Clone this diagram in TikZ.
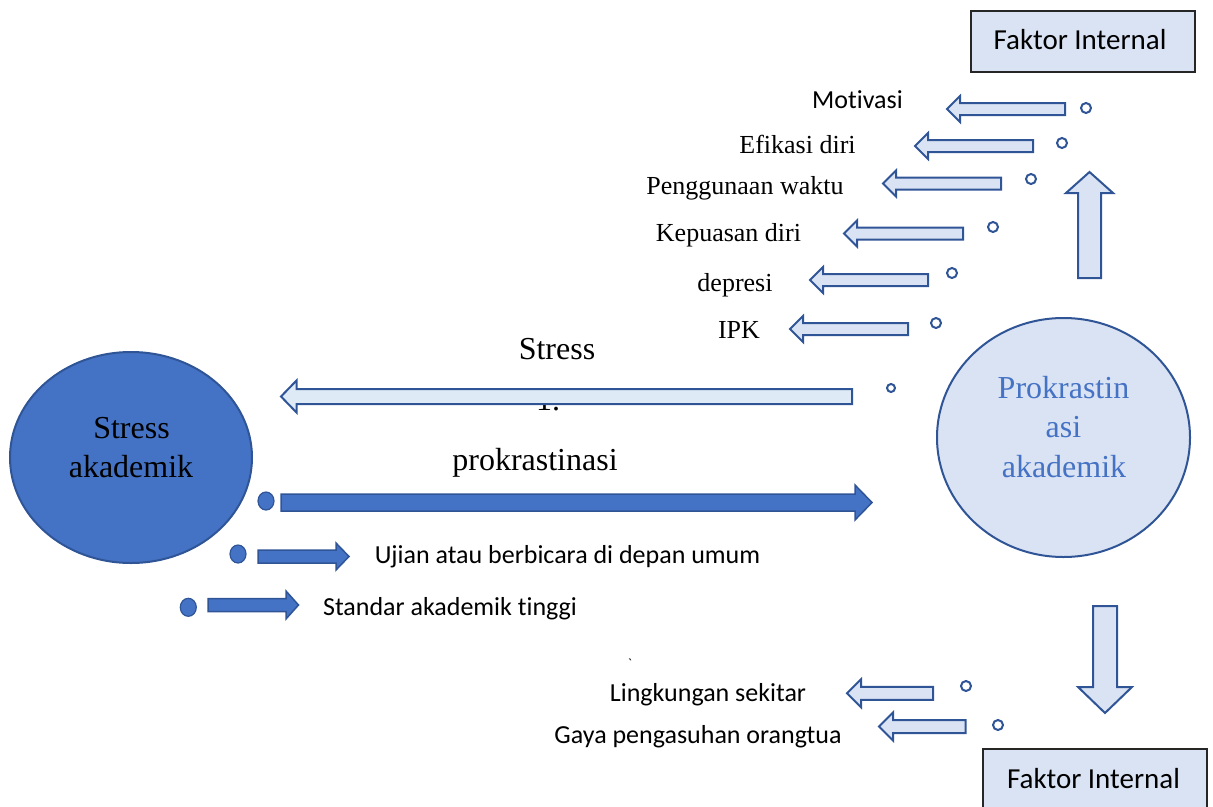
\documentclass[tikz,border=0pt]{standalone}
\usepackage{fontspec}
\setmainfont{Liberation Serif}
\newfontfamily\calibri{Carlito}[Ligatures=NoCommon]
\usetikzlibrary{shapes.geometric}
\definecolor{edgeblue}{RGB}{47,85,151}
\definecolor{midblue}{RGB}{68,114,196}
\definecolor{paleblue}{RGB}{218,227,243}
\definecolor{skyblue}{RGB}{222,235,247}
\newcommand{\harr}[7][]{\draw[#1] (#2,{#5-#6}) -- (#3,{#5-#6}) -- (#3,{#5-#7}) -- (#4,#5) -- (#3,{#5+#7}) -- (#3,{#5+#6}) -- (#2,{#5+#6}) -- cycle;}
\newcommand{\varr}[7][]{\draw[#1] ({#5-#6},#2) -- ({#5-#6},#3) -- ({#5-#7},#3) -- (#5,#4) -- ({#5+#7},#3) -- ({#5+#6},#3) -- ({#5+#6},#2) -- cycle;}
\tikzset{
  serif/.style={font=\fontsize{26}{30}\selectfont, inner sep=0pt, anchor=base},
  sans/.style={font=\calibri\fontsize{26}{30}\selectfont, inner sep=0pt, anchor=base},
  big/.style={font=\fontsize{32}{39}\selectfont, inner sep=0pt, anchor=base},
  light/.style={draw=edgeblue, fill=paleblue, line width=2pt, line join=miter},
  dark/.style={draw=edgeblue, fill=midblue, line width=1.5pt, line join=miter},
  ring/.style={circle, draw=edgeblue, fill=white, line width=2pt, minimum size=10pt, inner sep=0pt},
  blob/.style={ellipse, draw=edgeblue, fill=midblue, line width=1.2pt, minimum width=16pt, minimum height=18pt, inner sep=0pt},
  factor/.style={draw=black!85, fill=paleblue, line width=1.5pt, minimum width=224pt, minimum height=61pt, inner sep=0pt}
}
\begin{document}
\begin{tikzpicture}[x=1pt,y=-1pt]
\useasboundingbox (0,0) rectangle (1213,806);
\node[factor] (ftop) at (1083,41.5) {};
\node[sans, font=\calibri\fontsize{29}{33}\selectfont] (ftoptxt) at (1080,49) {Faktor Internal};
\node[factor] (fbot) at (1095,779.5) {};
\node[sans, font=\calibri\fontsize{29}{33}\selectfont] (fbottxt) at (1093.5,788) {Faktor Internal};
\node[sans] (motiv) at (857.5,108) {Motivasi};
\node[serif] (efik) at (797.5,153) {Efikasi diri};
\node[serif] (waktu) at (745,194) {Penggunaan waktu};
\node[serif] (puas) at (728.5,241) {Kepuasan diri};
\node[serif] (depr) at (735,291) {depresi};
\node[serif] (ipk) at (739,338) {IPK};
\harr[light]{1065}{960}{947}{109}{6}{13}
\harr[light]{1033}{928}{915}{146}{6}{13}
\harr[light]{1001}{896}{883}{183.5}{6}{13}
\harr[light]{963}{857}{844}{233.5}{6}{13}
\harr[light]{928}{823}{810}{280}{6}{13}
\harr[light]{908}{803}{790}{329}{6}{13}
\node[ring] (r1) at (1086,108) {};
\node[ring] (r2) at (1062,143) {};
\node[ring] (r3) at (1031,179) {};
\node[ring] (r4) at (993,227) {};
\node[ring] (r5) at (952,273) {};
\node[ring] (r6) at (936,323) {};
\varr[light]{278}{193}{172}{1089.5}{11.5}{23.5}
\node[ellipse, draw=edgeblue, fill=paleblue, line width=2pt, minimum width=253pt, minimum height=239pt] (prok) at (1063.5,437.5) {};
\node[big, text=midblue] (prok1) at (1063.5,398) {Prokrastin};
\node[big, text=midblue] (prok2) at (1063.5,437) {asi};
\node[big, text=midblue] (prok3) at (1064,477) {akademik};
\node[ellipse, draw=edgeblue, fill=midblue, line width=2pt, minimum width=242pt, minimum height=211pt] (stress) at (131,457.5) {};
\node[big] (stress1) at (131.5,438) {Stress};
\node[big] (stress2) at (131,477) {akademik};
\node[big] (mid1) at (557,359) {Stress};
\node[big] (mid2) at (548,410) {1.};
\harr[draw=edgeblue, fill=skyblue, line width=2pt, line join=miter]{852}{296.5}{281}{396.5}{7.5}{16}
\node[ring, minimum size=8pt] (r0) at (891,388) {};
\node[big] (mid3) at (535,470) {prokrastinasi};
\harr[dark]{281}{855}{872}{502.5}{8.5}{17.5}
\node[blob] (b1) at (266,501) {};
\harr[dark]{258}{336}{349}{556.5}{6.5}{13.5}
\node[blob] (b2) at (238,554) {};
\node[sans] (ujian) at (567.5,563) {Ujian atau berbicara di depan umum};
\harr[dark]{208}{286}{298.5}{605}{6.5}{14}
\node[blob] (b3) at (188.3,607.3) {};
\node[sans] (standar) at (450,615) {Standar akademik tinggi};
\node[sans, font=\calibri\fontsize{14}{16}\selectfont] (tick) at (630,668) {`};
\varr[light]{606}{687}{713}{1105}{12}{27}
\node[sans] (lingk) at (708,701) {Lingkungan sekitar};
\node[sans] (gaya) at (698,743) {Gaya pengasuhan orangtua};
\harr[light]{933}{861}{847}{693.3}{6.5}{14}
\harr[light]{965.5}{893}{879}{726.5}{6.5}{14}
\node[ring] (r7) at (966,686) {};
\node[ring] (r8) at (998,725) {};
\end{tikzpicture}
\end{document}
